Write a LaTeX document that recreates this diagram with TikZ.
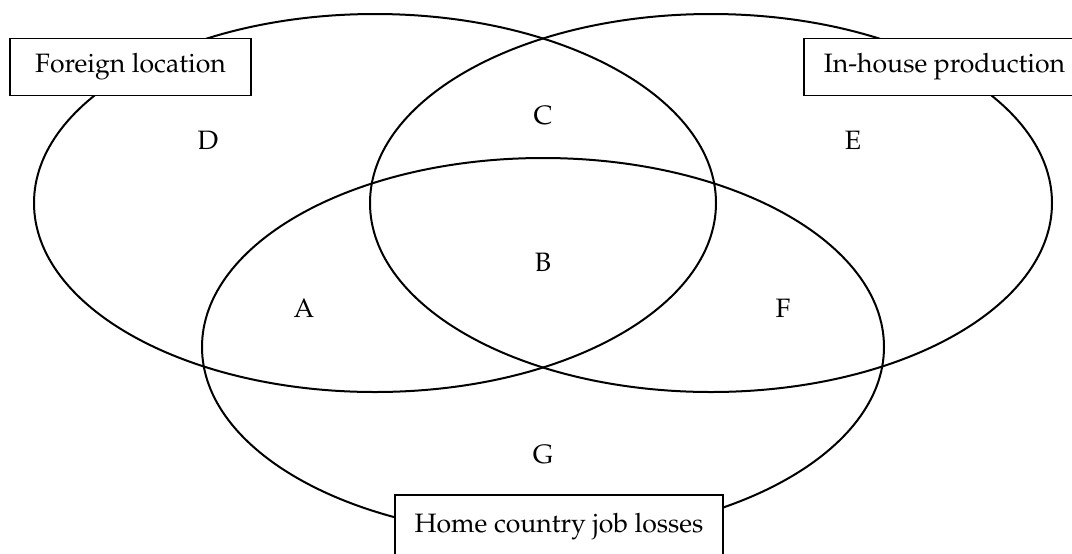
\documentclass[tikz,border=0pt]{standalone}
\usepackage[T1]{fontenc}
\usepackage{mathpazo}
\usepackage{tikz}
\usetikzlibrary{positioning}

\begin{document}
\begin{tikzpicture}[x=0.5pt,y=-0.5pt,font=\fontsize{13.3}{16}\selectfont,
ring/.style={line width=1pt},
lab/.style={draw,fill=white,line width=0.9pt,minimum height=28.5pt,inner xsep=8pt,inner ysep=0pt}]
\useasboundingbox (0,0) rectangle (1072,553);
\clip (0,0) rectangle (1072,553);
% the three sets
\draw[ring] (375,203) ellipse [x radius=341,y radius=189];
\draw[ring] (711,203) ellipse [x radius=341,y radius=189];
\draw[ring] (543,347) ellipse [x radius=341,y radius=189];
% set names
\node[lab,minimum width=120.5pt] (foreign) at (130.5,67) {Foreign location};
\node[lab,anchor=west,inner xsep=10pt] (inhouse) at (803,67) {In-house production};
\node[lab,minimum width=164pt,minimum height=32pt] (home) at (559,527) {Home country job losses};
% regions
\node (d) at (208,140) {D};
\node (c) at (543,116) {C};
\node (e) at (853,140) {E};
\node (b) at (543,262) {B};
\node (a) at (304,308) {A};
\node (f) at (783,308) {F};
\node (g) at (543,455) {G};
\end{tikzpicture}
\end{document}
